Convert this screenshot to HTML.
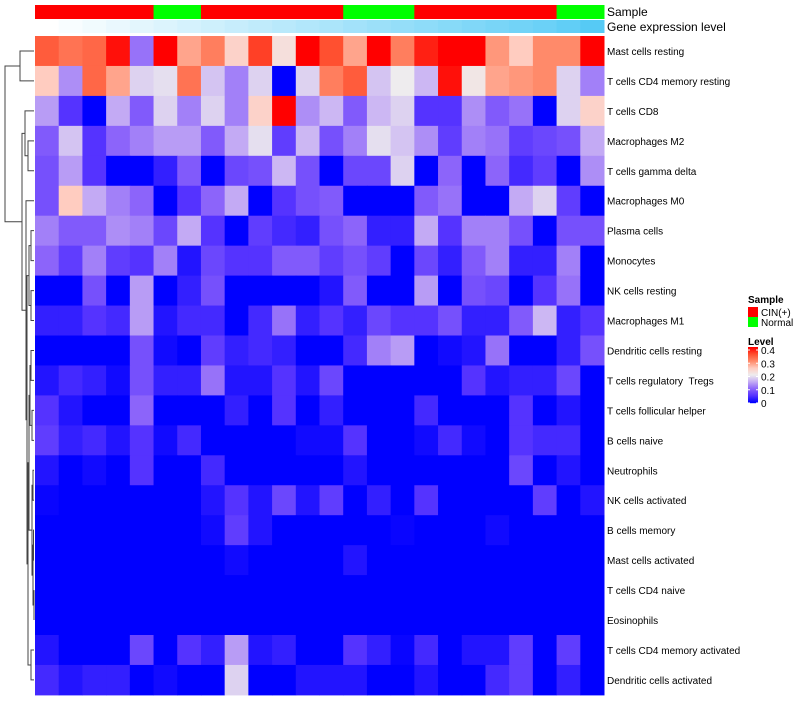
<!DOCTYPE html>
<html><head><meta charset="utf-8"><style>
body{margin:0;background:#fff;font-family:"Liberation Sans",sans-serif;}
svg text{font-family:"Liberation Sans",sans-serif;}
</style></head><body>
<svg id="chart" width="800" height="700" xmlns="http://www.w3.org/2000/svg"></svg>
<script>
const rowNames=["Mast cells resting","T cells CD4 memory resting","T cells CD8","Macrophages M2","T cells gamma delta","Macrophages M0","Plasma cells","Monocytes","NK cells resting","Macrophages M1","Dendritic cells resting","T cells regulatory \u00a0Tregs","T cells follicular helper","B cells naive","Neutrophils","NK cells activated","B cells memory","Mast cells activated","T cells CD4 naive","Eosinophils","T cells CD4 memory activated","Dendritic cells activated"];
const sampleGroups=["CIN","CIN","CIN","CIN","CIN","Normal","Normal","CIN","CIN","CIN","CIN","CIN","CIN","Normal","Normal","Normal","CIN","CIN","CIN","CIN","CIN","CIN","Normal","Normal"];
const geneLevel=[0,0.04,0.08,0.12,0.16,0.2,0.24,0.28,0.32,0.36,0.4,0.44,0.48,0.52,0.56,0.6,0.64,0.68,0.72,0.76,0.8,0.84,0.9,0.96];
const values=[
[.34,.32,.33,.39,.11,.4,.28,.31,.24,.36,.22,.4,.35,.28,.4,.31,.38,.4,.4,.29,.25,.3,.3,.4],
[.25,.13,.33,.28,.18,.19,.32,.17,.12,.18,0,.18,.31,.34,.17,.2,.16,.39,.21,.28,.29,.3,.18,.12],
[.14,.05,0,.15,.09,.18,.12,.18,.12,.24,.4,.13,.16,.09,.16,.18,.05,.05,.13,.09,.11,0,.18,.24],
[.09,.17,.05,.1,.12,.14,.14,.09,.15,.19,.06,.16,.08,.12,.19,.17,.13,.06,.12,.11,.06,.07,.08,.15],
[.08,.14,.05,0,0,.03,.09,0,.07,.08,.16,.08,0,.07,.07,.18,0,.1,0,.1,.04,.06,0,.13],
[.08,.25,.15,.12,.1,0,.05,.1,.15,0,.05,.08,.09,0,0,0,.09,.11,0,0,.15,.18,.06,0],
[.12,.09,.09,.13,.12,.07,.15,.05,0,.06,.04,.03,.08,.1,.03,.03,.15,.05,.12,.12,.08,0,.08,.08],
[.1,.06,.12,.06,.05,.12,.02,.07,.05,.05,.09,.09,.06,.08,.06,0,.07,.03,.09,.12,.03,.03,.12,0],
[0,0,.08,0,.14,0,.03,.08,0,0,0,0,.02,.09,0,0,.14,0,.08,.07,0,.05,.11,0],
[.03,.03,.05,.04,.14,.02,.04,.04,0,.04,.11,.03,.05,.03,.07,.05,.05,.08,.03,.03,.09,.16,.03,.05],
[0,0,0,0,.08,.01,0,.06,.03,.04,.03,0,0,.04,.12,.14,0,.01,.02,.11,0,0,.03,.08],
[.02,.04,.03,.01,.08,.03,.03,.11,.02,.02,.05,.02,.07,0,0,0,0,0,.05,.02,.03,.03,.07,0],
[.05,.02,0,0,.1,0,0,0,.03,0,.05,0,.03,0,0,0,.04,0,0,0,.05,0,.02,0],
[.06,.03,.04,.02,.05,.01,.04,0,0,0,0,.01,.01,.05,0,0,.01,.04,.01,0,.05,.04,.04,0],
[.02,0,.01,0,.05,0,0,.04,0,0,0,0,0,.02,0,0,0,0,0,0,.07,0,.02,0],
[.005,0,0,0,0,0,0,.02,.05,.02,.07,.02,.06,0,.03,0,.05,0,0,0,0,.06,0,.02],
[0,0,0,0,0,0,0,.01,.06,.02,0,0,0,0,0,.005,0,0,0,.01,0,0,0,0],
[0,0,0,0,0,0,0,0,.01,0,0,0,0,.02,0,0,0,0,0,0,0,0,0,0],
[0,0,0,0,0,0,0,0,0,0,0,0,0,0,0,0,0,0,0,0,0,0,0,0],
[0,0,0,0,0,0,0,0,0,0,0,0,0,0,0,0,0,0,0,0,0,0,0,0],
[.02,0,0,0,.07,0,.05,.03,.14,.02,.03,0,0,.05,.03,.005,.04,0,.02,.02,.06,0,.06,0],
[.04,.02,.03,.03,0,.01,0,0,.18,0,0,.02,.02,.02,0,0,.02,0,0,.04,.06,0,.03,0]
];
const legendTicks=["0.4","0.3","0.2","0.1","0"];

const NS="http://www.w3.org/2000/svg";
const svg=document.getElementById('chart');
const X0=35,X1=604,Y0=36,CH=29.95,ncol=24;
const CW=(X1-X0)/ncol;
const xPos=i=>X0+i*CW;
const yPos=r=>Y0+r*CH;
const stops=[[0,[0,0,255]],[.05,[85,51,255]],[.1,[140,100,250]],[.15,[195,170,244]],[.2,[238,236,238]],[.25,[255,204,192]],[.3,[255,138,106]],[.35,[255,80,48]],[.4,[255,0,0]]];
function col(v){v=Math.max(0,Math.min(.4,v));for(let i=1;i<stops.length;i++){if(v<=stops[i][0]){const a=stops[i-1],b=stops[i];const t=(v-a[0])/(b[0]-a[0]);const c=a[1].map((x,k)=>Math.round(x+(b[1][k]-x)*t));return `rgb(${c})`;}}return 'rgb(255,0,0)';}
function el(tag,attrs,parent){const e=document.createElementNS(NS,tag);for(const k in attrs)e.setAttribute(k,attrs[k]);(parent||svg).appendChild(e);return e;}
sampleGroups.forEach((g,i)=>{
 const r=el('rect',{x:xPos(i),y:5,width:CW+0.5,height:14,fill:g==="CIN"?"#FF0000":"#00FF00"});
 
 
});
geneLevel.forEach((v,i)=>{
 const c=[255-(255-79)*v,255-(255-200)*v,255-(255-245)*v].map(Math.round);
 const r=el('rect',{x:xPos(i),y:20,width:CW+0.5,height:13,fill:`rgb(${c})`});
 
 
});
let t=el('text',{x:607,y:16,'font-size':12,fill:'#000'});t.textContent='Sample';

t=el('text',{x:607,y:31,'font-size':12,fill:'#000'});t.textContent='Gene expression level';

values.forEach((row,r)=>{row.forEach((v,c)=>{
 const rc=el('rect',{x:xPos(c),y:yPos(r),width:CW+0.5,height:CH+0.5,fill:col(v)});
 
 
});
 const tx=el('text',{x:607,y:yPos(r)+CH/2+4,'font-size':10,fill:'#000'});tx.textContent=rowNames[r];
 
});
const g=el('g',{stroke:'#444','stroke-width':1,fill:'none'});

const LEAF=34;
const tree=[[0,1,20],[[2,[3,4,28],25],[5,[[[6,7,31],[8,9,31],29],[[[[10,11,31],[12,13,32],30],[[14,15,33],[[16,17,33.5],[18,19,34],33],32],29],[20,21,31],28],27],26],22],5];
function draw(n){if(typeof n==='number')return{x:LEAF,y:yPos(n)+CH/2};
 const a=draw(n[0]),b=draw(n[1]),h=n[2];
 el('path',{d:`M${a.x},${a.y}H${h}V${b.y}H${b.x}`},g);
 return{x:h,y:(a.y+b.y)/2};}
draw(tree);
t=el('text',{x:748,y:303,'font-size':10,'font-weight':'bold'});t.textContent='Sample';

[["CIN(+)","#FF0000"],["Normal","#00FF00"]].forEach((d,i)=>{
 const r=el('rect',{x:748,y:307+i*10,width:10,height:10,fill:d[1]});
 
 const tt=el('text',{x:761,y:316+i*10,'font-size':10});tt.textContent=d[0];
 
});
t=el('text',{x:748,y:345,'font-size':10,'font-weight':'bold'});t.textContent='Level';

for(let k=0;k<56;k++){const v=.4-k*.4/55;el('rect',{x:748,y:347+k,width:10,height:1.2,fill:col(v)});}
legendTicks.forEach((s,i)=>{
 const y=350+i*13.25;
 el('line',{x1:748,x2:750,y1:y,y2:y,stroke:'#fff'});el('line',{x1:756,x2:758,y1:y,y2:y,stroke:'#fff'});
 const tt=el('text',{x:761,y:y+4,'font-size':10});tt.textContent=s;
 
});
</script>
</body></html>
